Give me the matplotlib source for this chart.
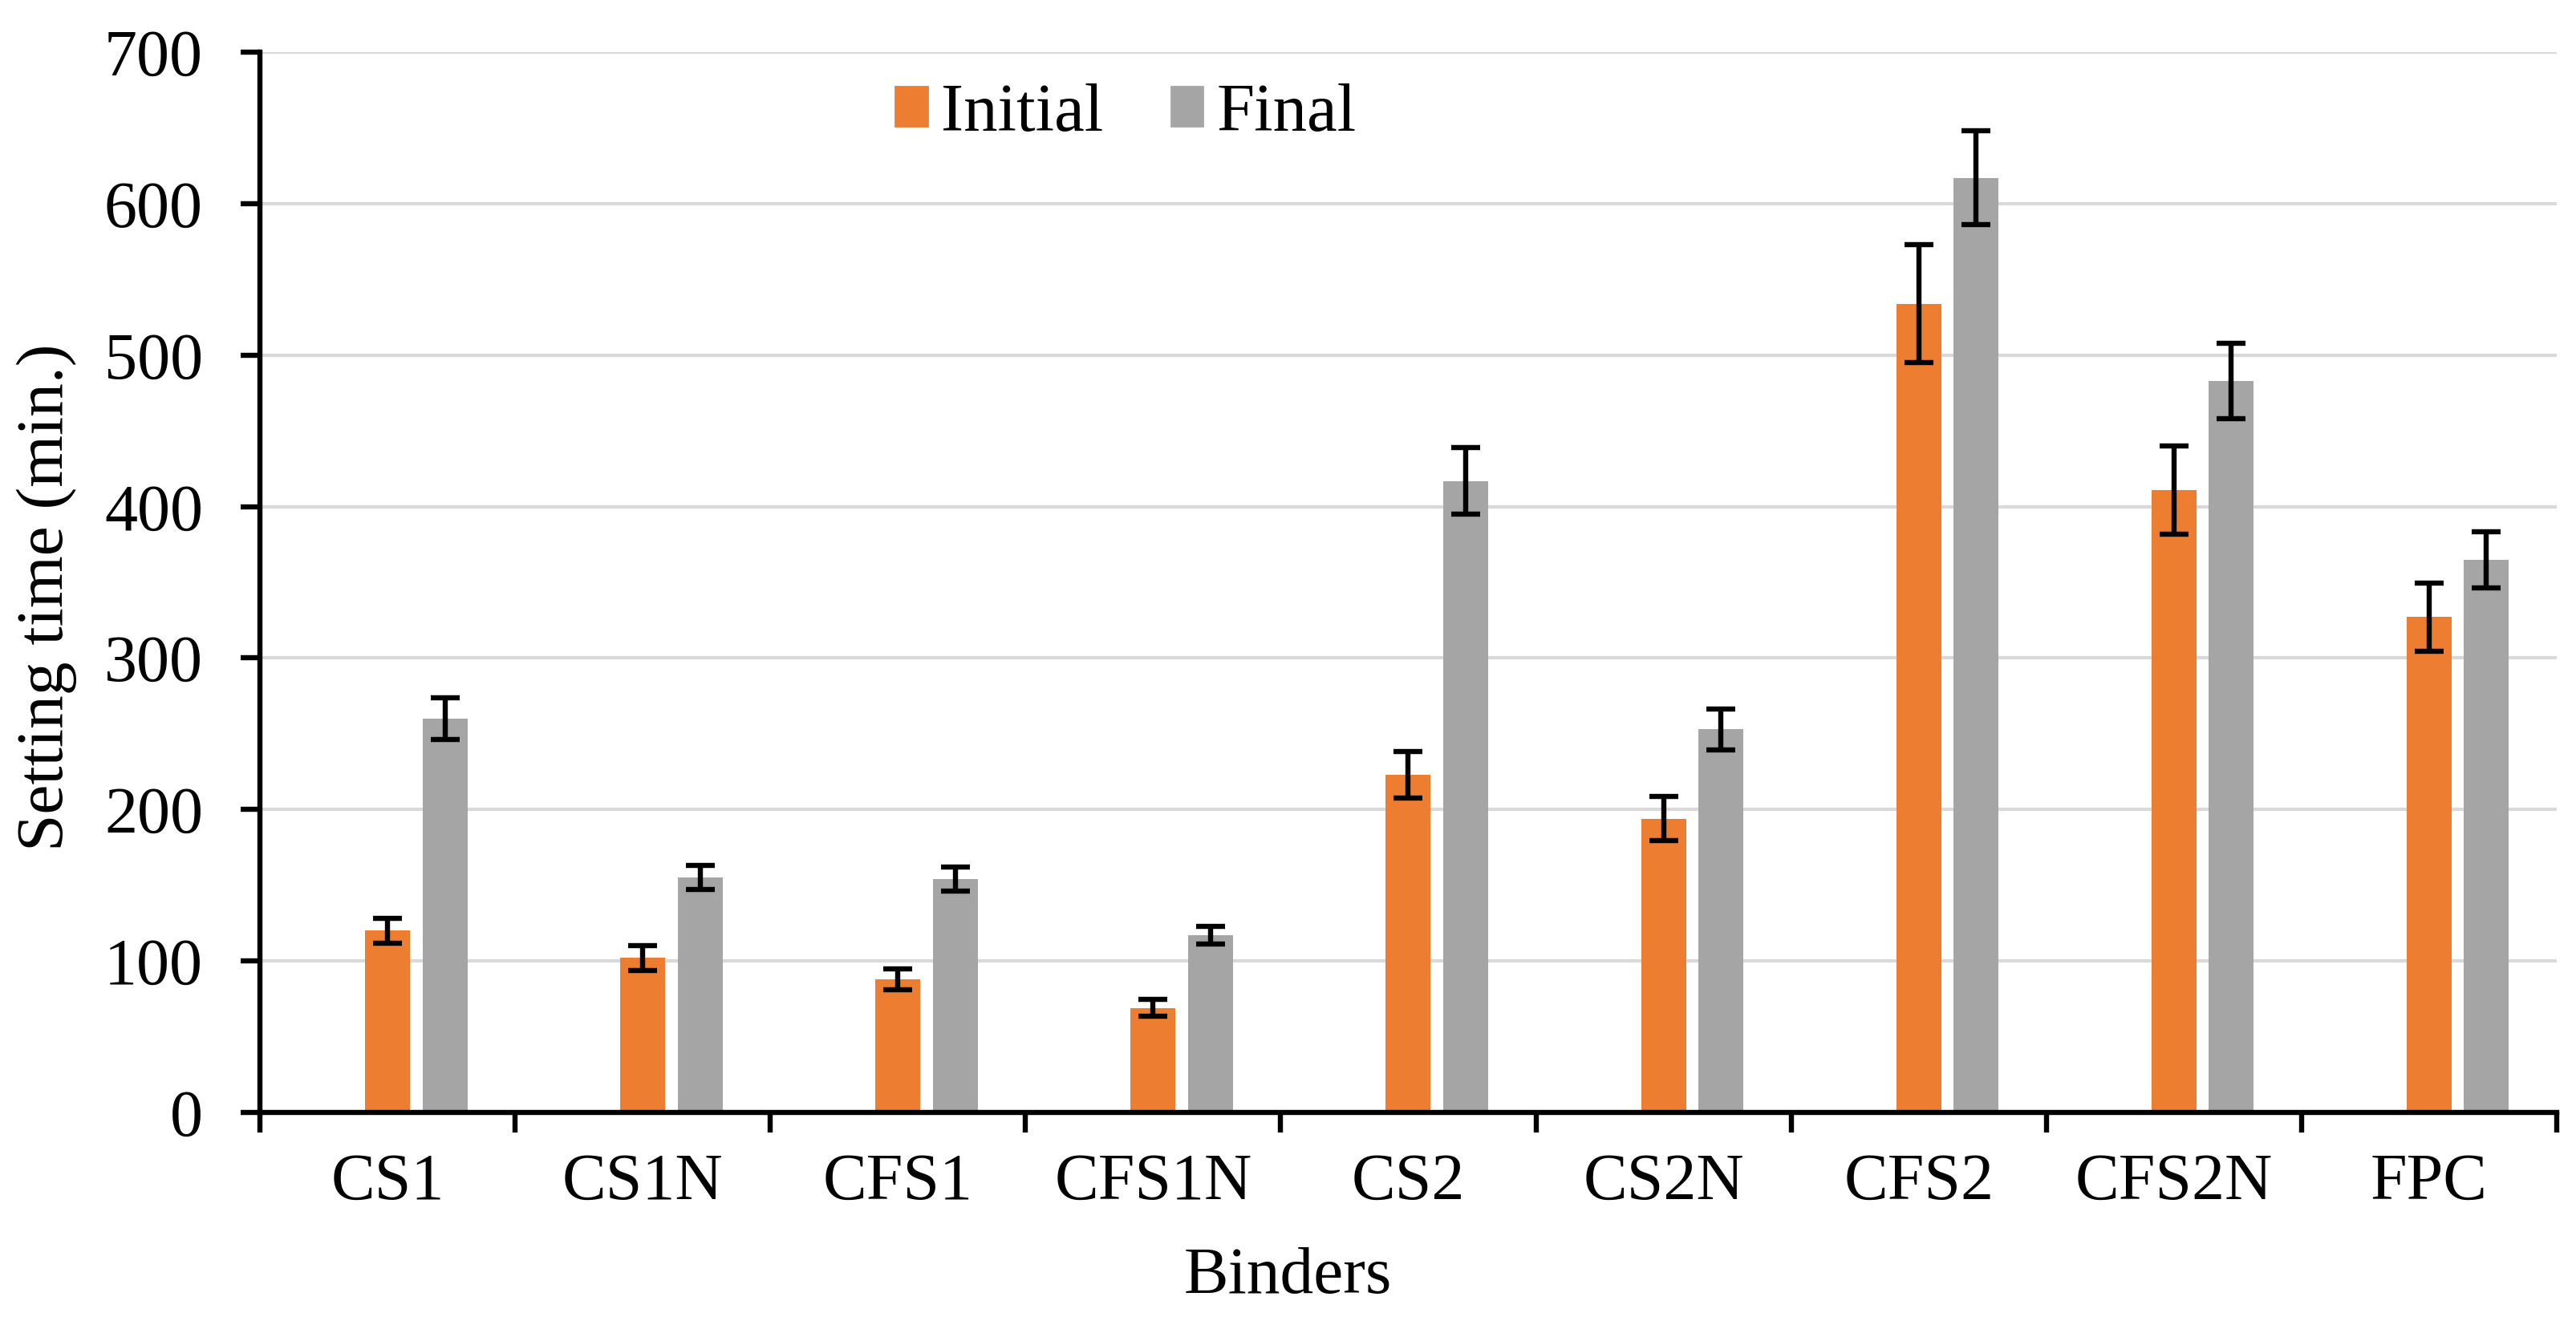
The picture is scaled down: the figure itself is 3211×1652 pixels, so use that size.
import matplotlib
matplotlib.use("Agg")
import matplotlib.pyplot as plt
from matplotlib.patches import Patch
import numpy as np

categories = ["CS1", "CS1N", "CFS1", "CFS1N", "CS2", "CS2N", "CFS2", "CFS2N", "FPC"]
initial = [120, 102, 88, 69, 223, 194, 534, 411, 327]
initial_err = [8, 8, 7, 5.5, 15.5, 14.5, 39, 29, 22.5]
final = [260, 155, 154, 117, 417, 253, 617, 483, 365]
final_err = [14, 8, 8, 6, 22, 13.5, 31, 25, 18.5]
yticks = [0, 100, 200, 300, 400, 500, 600, 700]

plt.rcParams['font.family'] = ['Liberation Serif', 'DejaVu Serif']

fig = plt.figure(figsize=(16.055, 8.26), dpi=200)
ax = fig.add_axes([0.1009, 0.1604, 0.8916, 0.8002])

x = np.arange(len(categories))
w = 0.176
off = 0.225
ekw = dict(elinewidth=2.3, capthick=2.3, ecolor='black')
ax.bar(x, initial, w, color='#ED7D31', yerr=initial_err, capsize=6.5, error_kw=ekw, zorder=3)
ax.bar(x + off, final, w, color='#A5A5A5', yerr=final_err, capsize=6.5, error_kw=ekw, zorder=3)

ax.set_xlim(-0.5, len(categories) - 0.5)
ax.set_ylim(0, 700)
ax.set_yticks(yticks)
ax.tick_params(axis='y', labelsize=29.5, length=8.6, width=2.3, pad=17, direction='out')
ax.set_xticks(x)
ax.set_xticklabels(categories)
ax.tick_params(axis='x', which='major', labelsize=29.5, length=0, pad=18)
ax.set_xticks(np.arange(-0.5, len(categories), 1.0), minor=True)
ax.tick_params(axis='x', which='minor', length=9, width=2.3, direction='out')

ax.grid(axis='y', color='#D9D9D9', linewidth=1.5, zorder=0)
ax.set_axisbelow(True)
for s in ['top', 'right']:
    ax.spines[s].set_visible(False)
for s in ['left', 'bottom']:
    ax.spines[s].set_linewidth(2.3)
    ax.spines[s].set_zorder(4)

fig.text(0.5, 1 - 1592 / 1652, "Binders", ha='center', va='center', fontsize=30)
fig.text(58 / 3211, 1 - 745 / 1652, "Setting time (min.)", ha='center', va='center',
         rotation=90, fontsize=30)

handles = [Patch(color='#ED7D31', label='Initial'), Patch(color='#A5A5A5', label='Final')]
fig.legend(handles=handles, loc='center', bbox_to_anchor=(0.437, 0.914), ncol=2,
           frameon=False, fontsize=30.5, handlelength=0.47, handleheight=0.52,
           handletextpad=0.2, columnspacing=1.0)

fig.savefig("out.png", dpi=200)
